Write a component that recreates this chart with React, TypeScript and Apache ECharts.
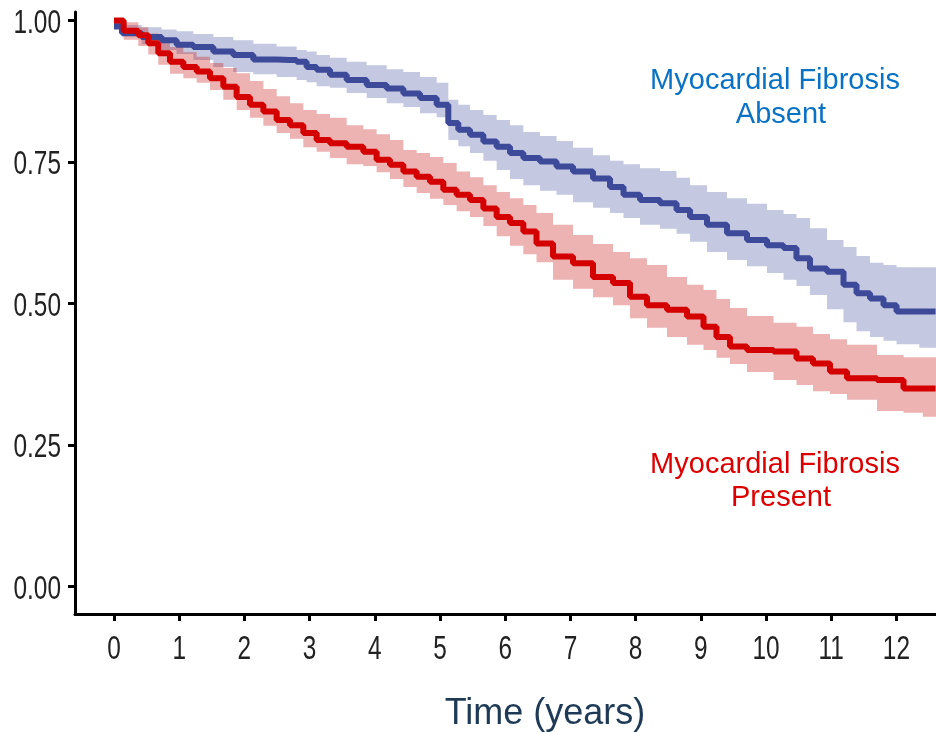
import React, { useEffect, useRef } from "react";
import * as echarts from "echarts";

// Myocardial fibrosis ABSENT (blue): time (years), survival, 95% CI
const absentTime = [0, 0.245, 0.603, 0.859, 1.063, 1.37, 1.676, 1.983, 2.29, 2.699, 2.903, 3.006, 3.21, 3.416, 3.722, 4.029, 4.336, 4.54, 4.847, 5.051, 5.204, 5.357, 5.563, 5.767, 5.971, 6.176, 6.38, 6.687, 6.887, 7.193, 7.5, 7.715, 7.914, 8.221, 8.528, 8.727, 8.942, 9.248, 9.555, 9.862, 10.169, 10.368, 10.567, 10.782, 11.089, 11.288, 11.488, 11.702, 11.902, 12.101, 12.6];
const absentSurv = [0.99, 0.978, 0.971, 0.965, 0.957, 0.953, 0.945, 0.939, 0.931, 0.93, 0.927, 0.918, 0.913, 0.904, 0.895, 0.886, 0.88, 0.871, 0.863, 0.851, 0.819, 0.807, 0.798, 0.786, 0.777, 0.766, 0.757, 0.751, 0.742, 0.733, 0.721, 0.706, 0.692, 0.683, 0.677, 0.665, 0.653, 0.639, 0.624, 0.612, 0.603, 0.598, 0.58, 0.562, 0.556, 0.533, 0.518, 0.509, 0.497, 0.486, 0.486];
const absentUpper = [1.0, 0.992, 0.988, 0.984, 0.981, 0.976, 0.971, 0.965, 0.959, 0.954, 0.948, 0.945, 0.939, 0.934, 0.927, 0.921, 0.914, 0.909, 0.9, 0.89, 0.86, 0.851, 0.842, 0.833, 0.824, 0.815, 0.803, 0.796, 0.787, 0.775, 0.762, 0.752, 0.746, 0.739, 0.734, 0.722, 0.709, 0.697, 0.686, 0.676, 0.665, 0.658, 0.651, 0.633, 0.612, 0.6, 0.584, 0.572, 0.568, 0.564, 0.564];
const absentLower = [0.983, 0.971, 0.958, 0.948, 0.941, 0.93, 0.918, 0.909, 0.905, 0.9, 0.895, 0.891, 0.884, 0.881, 0.872, 0.863, 0.854, 0.847, 0.836, 0.829, 0.789, 0.778, 0.766, 0.752, 0.736, 0.72, 0.709, 0.699, 0.692, 0.679, 0.669, 0.66, 0.651, 0.639, 0.632, 0.623, 0.609, 0.591, 0.577, 0.566, 0.554, 0.542, 0.531, 0.515, 0.49, 0.467, 0.451, 0.441, 0.434, 0.428, 0.422];

// Myocardial fibrosis PRESENT (red): time (years), survival, 95% CI
const presentTime = [0, 0.296, 0.449, 0.603, 0.756, 0.962, 1.166, 1.37, 1.575, 1.779, 1.983, 2.189, 2.393, 2.597, 2.802, 3.006, 3.21, 3.416, 3.722, 3.926, 4.13, 4.336, 4.54, 4.744, 4.949, 5.153, 5.357, 5.563, 5.767, 5.971, 6.176, 6.38, 6.58, 6.887, 7.193, 7.5, 7.807, 8.021, 8.328, 8.635, 8.942, 9.141, 9.34, 9.555, 9.862, 10.368, 10.567, 10.874, 11.089, 11.396, 12.009, 12.209, 12.6];
const presentSurv = [1.0, 0.982, 0.974, 0.96, 0.942, 0.927, 0.918, 0.91, 0.898, 0.883, 0.865, 0.851, 0.839, 0.824, 0.815, 0.801, 0.789, 0.783, 0.777, 0.768, 0.754, 0.745, 0.733, 0.724, 0.715, 0.701, 0.692, 0.683, 0.668, 0.653, 0.642, 0.627, 0.606, 0.583, 0.571, 0.547, 0.536, 0.512, 0.497, 0.489, 0.477, 0.459, 0.441, 0.424, 0.418, 0.415, 0.403, 0.394, 0.38, 0.368, 0.365, 0.35, 0.35];
const presentUpper = [1.0, 0.997, 0.988, 0.977, 0.97, 0.953, 0.944, 0.936, 0.925, 0.916, 0.907, 0.893, 0.879, 0.866, 0.854, 0.842, 0.835, 0.828, 0.815, 0.808, 0.799, 0.789, 0.771, 0.766, 0.759, 0.748, 0.733, 0.723, 0.709, 0.697, 0.686, 0.674, 0.66, 0.639, 0.621, 0.605, 0.591, 0.58, 0.568, 0.547, 0.533, 0.524, 0.508, 0.492, 0.478, 0.466, 0.459, 0.446, 0.437, 0.427, 0.409, 0.405, 0.405];
const presentLower = [0.993, 0.966, 0.955, 0.94, 0.922, 0.906, 0.898, 0.89, 0.877, 0.86, 0.842, 0.828, 0.814, 0.801, 0.791, 0.776, 0.768, 0.757, 0.746, 0.743, 0.732, 0.72, 0.706, 0.695, 0.685, 0.674, 0.663, 0.653, 0.637, 0.619, 0.602, 0.587, 0.573, 0.542, 0.526, 0.511, 0.497, 0.474, 0.457, 0.441, 0.427, 0.418, 0.404, 0.393, 0.379, 0.365, 0.356, 0.345, 0.34, 0.33, 0.31, 0.307, 0.3];

const xTicks = [0, 1, 2, 3, 4, 5, 6, 7, 8, 9, 10, 11, 12];
const yTicks = [0, 0.25, 0.5, 0.75, 1.0];

const labelLine1 = "Myocardial Fibrosis";
const labelAbsent = "Absent";
const labelPresent = "Present";
const xTitle = "Time (years)";

const BLUE = "#3d4a99";
const RED = "#d40000";
const X_MIN = -0.598;
const X_MAX = 12.607;
const Y_MIN = -0.0486;
const Y_MAX = 1.015;
const tickFont = "33px 'Liberation Sans', Arial, sans-serif";
const legendFont = "29px 'Liberation Sans', Arial, sans-serif";

export default function App() {
  const ref = useRef<HTMLDivElement>(null);
  useEffect(() => {
    const chart = echarts.init(ref.current!, null, { renderer: "svg" });
    const pts = (t: number[], v: number[]) => t.map((x, i) => [x, v[i]]);
    // confidence band drawn as a stepped polygon (steps half-way between readings, like step: "middle")
    const band = (t: number[], lo: number[], hi: number[], color: string) => ({
      type: "custom",
      coordinateSystem: "cartesian2d",
      data: [[t[0], hi[0]]],
      clip: true,
      silent: true,
      z: 1,
      renderItem: (_p: any, api: any) => {
        const top: number[][] = [];
        const bot: number[][] = [];
        for (let i = 0; i < t.length; i++) {
          const a = i === 0 ? t[0] : (t[i - 1] + t[i]) / 2;
          const b = i === t.length - 1 ? X_MAX : (t[i] + t[i + 1]) / 2;
          top.push(api.coord([a, hi[i]]), api.coord([b, hi[i]]));
          bot.push(api.coord([a, lo[i]]), api.coord([b, lo[i]]));
        }
        return {
          type: "polygon",
          shape: { points: top.concat(bot.reverse()) },
          style: { fill: color, stroke: "none" },
        };
      },
    });
    const baseGraphic: any[] = [
      { type: "text", x: 775, y: 79, z: 100, style: { text: labelLine1, fill: "#0a72c4", font: legendFont, align: "center", verticalAlign: "middle" } },
      { type: "text", x: 781, y: 113, z: 100, style: { text: labelAbsent, fill: "#0a72c4", font: legendFont, align: "center", verticalAlign: "middle" } },
      { type: "text", x: 775, y: 463, z: 100, style: { text: labelLine1, fill: "#dc0000", font: legendFont, align: "center", verticalAlign: "middle" } },
      { type: "text", x: 781, y: 496, z: 100, style: { text: labelPresent, fill: "#dc0000", font: legendFont, align: "center", verticalAlign: "middle" } },
      { type: "text", x: 545, y: 711, z: 100, style: { text: xTitle, fill: "#1e3a56", font: "36px 'Liberation Sans', Arial, sans-serif", align: "center", verticalAlign: "middle" } },
    ];
    chart.setOption({
      animation: false,
      grid: { left: 75, right: 0, top: 12, bottom: 118, containLabel: false },
      xAxis: {
        type: "value", min: X_MIN, max: X_MAX,
        axisLine: { show: true, onZero: false, lineStyle: { color: "#000", width: 3 } },
        axisTick: { show: true, length: 7, lineStyle: { color: "#000", width: 3 }, customValues: xTicks },
        axisLabel: { show: false },
        splitLine: { show: false },
      },
      yAxis: {
        type: "value", min: Y_MIN, max: Y_MAX,
        axisLine: { show: true, onZero: false, lineStyle: { color: "#000", width: 3 } },
        axisTick: { show: true, length: 7, lineStyle: { color: "#000", width: 3 }, customValues: yTicks },
        axisLabel: { show: false },
        splitLine: { show: false },
      },
      series: [
        band(absentTime, absentLower, absentUpper, "rgba(61,74,153,0.3)"),
        band(presentTime, presentLower, presentUpper, "rgba(200,20,20,0.33)"),
        {
          type: "line", name: "absent", step: "middle", data: pts(absentTime, absentSurv), z: 3,
          showSymbol: false, symbol: "none", lineStyle: { color: BLUE, width: 6 },
        },
        {
          type: "line", name: "present", step: "middle", data: pts(presentTime, presentSurv), z: 4,
          showSymbol: false, symbol: "none", lineStyle: { color: RED, width: 6 },
        },
      ],
      graphic: baseGraphic,
    });
    // tick labels positioned through the axes' own scales
    const tickGraphic: any[] = [];
    xTicks.forEach((v) => {
      const p = chart.convertToPixel({ gridIndex: 0 }, [v, Y_MIN]) as number[];
      tickGraphic.push({
        type: "text", x: p[0], y: p[1] + 34, scaleX: 0.74, z: 100,
        style: { text: String(v), fill: "#222", font: tickFont, align: "center", verticalAlign: "middle" },
      });
    });
    yTicks.forEach((v) => {
      const p = chart.convertToPixel({ gridIndex: 0 }, [X_MIN, v]) as number[];
      tickGraphic.push({
        type: "text", x: p[0] - 14, y: p[1] + 1, scaleX: 0.74, z: 100,
        style: { text: v.toFixed(2), fill: "#222", font: tickFont, align: "right", verticalAlign: "middle" },
      });
    });
    chart.setOption({ graphic: [...baseGraphic, ...tickGraphic] });
    return () => chart.dispose();
  }, []);
  return <div ref={ref} style={{ position: "fixed", left: 0, top: 0, width: 936, height: 732 }} />;
}
